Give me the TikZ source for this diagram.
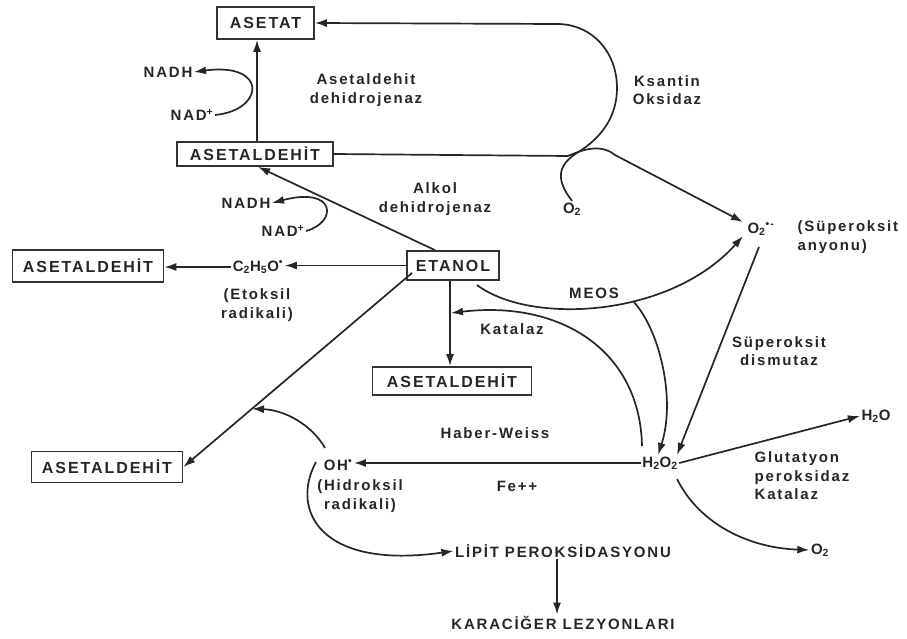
\documentclass[tikz,border=0pt]{standalone}
\usepackage{fontspec}
\setmainfont{Liberation Sans}[LetterSpace=12]
\usetikzlibrary{arrows.meta}
\begin{document}
\begin{tikzpicture}[x=1pt,y=-1pt,
  every node/.style={font=\fontsize{15}{18.5}\selectfont\bfseries, text=black!85},
  box/.style={draw=black!80, line width=1.7pt, inner sep=0pt, font=\fontsize{16}{19}\selectfont\bfseries},
  lbl/.style={inner sep=1.5pt},
  arr/.style={draw=black!85, line width=1.7pt, -{Latex[length=12pt,width=8pt]}}]
\useasboundingbox (0,0) rectangle (907,639);

% boxes
\node[box, minimum width=97pt, minimum height=32pt] (asetat) at (265.5,23) {ASETAT};
\node[box, minimum width=156pt, minimum height=24pt] (aldT) at (255,154) {ASETALDEHİT};
\node[box, minimum width=151pt, minimum height=32pt] (aldL) at (88,266) {ASETALDEHİT};
\node[box, minimum width=92pt, minimum height=29pt] (etanol) at (453,265.5) {ETANOL};
\node[box, minimum width=159pt, minimum height=28pt] (aldM) at (452,381) {ASETALDEHİT};
\node[box, minimum width=151pt, minimum height=31pt] (aldBL) at (107,467) {ASETALDEHİT};

% labels
\node[lbl] (nadhA) at (168,72) {NADH};
\node[lbl] (nadA) at (192,115) {NAD\textsuperscript{+}};
\node[lbl, align=center] (aldh) at (366,90) {Asetaldehit\\dehidrojenaz};
\node[lbl, align=center] (ksantin) at (667,90) {Ksantin\\Oksidaz};
\node[lbl] (nadhB) at (246,203) {NADH};
\node[lbl] (nadB) at (283,231) {NAD\textsuperscript{+}};
\node[lbl, align=center] (adh) at (435,199) {Alkol\\dehidrojenaz};
\node[lbl] (o2top) at (572,209) {O\textsubscript{2}};
\node[lbl] (sup) at (761,229) {O\textsubscript{2}\textsuperscript{•-}};
\node[lbl, align=left, anchor=west] (supname) at (796,237) {(Süperoksit\\anyonu)};
\node[lbl] (c2h5o) at (258,267) {C\textsubscript{2}H\textsubscript{5}O\textsuperscript{•}};
\node[lbl, align=center] (etoksil) at (257,305) {(Etoksil\\radikali)};
\node[lbl] (meos) at (594,293) {MEOS};
\node[lbl] (katalaz) at (512,329) {Katalaz};
\node[lbl, align=center] (sod) at (779,351) {Süperoksit\\dismutaz};
\node[lbl] (haber) at (495,433) {Haber-Weiss};
\node[lbl] (h2o) at (876,416) {H\textsubscript{2}O};
\node[lbl] (oh) at (338,465) {OH\textsuperscript{•}};
\node[lbl, align=center] (hidroksil) at (360,496) {(Hidroksil\\radikali)};
\node[lbl] (h2o2) at (660,463) {H\textsubscript{2}O\textsubscript{2}};
\node[lbl] (fe) at (517,486) {Fe++};
\node[lbl, align=left, anchor=west] (glut) at (753,476) {Glutatyon\\peroksidaz\\Katalaz};
\node[lbl] (o2bot) at (820,550) {O\textsubscript{2}};
\node[lbl] (lipit) at (563,551) {LİPİT PEROKSİDASYONU};
\node[lbl] (karac) at (563,623) {KARACİĞER LEZYONLARI};

% free ends
\coordinate (meosstart) at (477,285);
\coordinate (meosmid) at (633,301);
\coordinate (katstart) at (642,446);
\coordinate (katend) at (451,313);
\coordinate (sodstart) at (759,247);
\coordinate (ohup) at (325,448);
\coordinate (ohdown) at (316,462);
\coordinate (h2o2low) at (677,479);
\coordinate (suptipA) at (743,222);
\coordinate (suptipB) at (743,236);

% connectors
\draw[arr] ([xshift=2pt]aldT.north) -- ([xshift=2pt]aldT.north |- asetat.south);
\draw[arr] (nadA.east) .. controls (265,110) and (268,62) .. (nadhA.east);
\draw[arr] (o2top.north) .. controls (556,180) and (556,165) .. (580,151)
   .. controls (600,138) and (617,118) .. (617,88)
   .. controls (617,52) and (592,24) .. (557,24) -- (asetat.east);
\draw[arr] (aldT.east) -- (568,156) .. controls (582,150) and (600,143) .. (615,155) -- (suptipA);
\draw[arr] ([xshift=-18pt]etanol.north) -- ([xshift=3pt]aldT.south);
\draw[arr] (nadB.east) .. controls (338,222) and (336,186) .. (nadhB.east);
\draw[arr] (etanol.west) -- (etanol.west -| c2h5o.east);
\draw[arr] (c2h5o.west) -- (c2h5o.west -| aldL.east);
\draw[arr] ([xshift=-3pt]etanol.south) -- ([xshift=-2pt]aldM.north);
\draw[arr] (katstart) .. controls (640,350) and (560,300) .. (katend);
\draw[arr] (meosstart) .. controls (530,325) and (670,318) .. (suptipB);
\draw[arr] (meosmid) .. controls (660,330) and (676,400) .. ([xshift=-2pt]h2o2.north);
\draw[arr] (sodstart) -- ([xshift=17pt]h2o2.north);
\draw[arr] (h2o2.east) -- (h2o.west);
\draw[arr] (h2o2low) .. controls (700,525) and (750,548) .. (o2bot.west);
\draw[arr] (h2o2.west) -- (h2o2.west -| oh.east);
\draw[arr] ([xshift=6pt,yshift=8pt]etanol.south west) -- coordinate[pos=0.7] (hit) (aldBL.east);
\draw[arr] (ohup) .. controls (312,425) and (285,410) .. (hit);
\draw[arr] (ohdown) .. controls (290,510) and (320,570) .. (lipit.west);
\draw[arr] ([xshift=-6pt]lipit.south) -- ([xshift=-6pt]karac.north);
\end{tikzpicture}
\end{document}
